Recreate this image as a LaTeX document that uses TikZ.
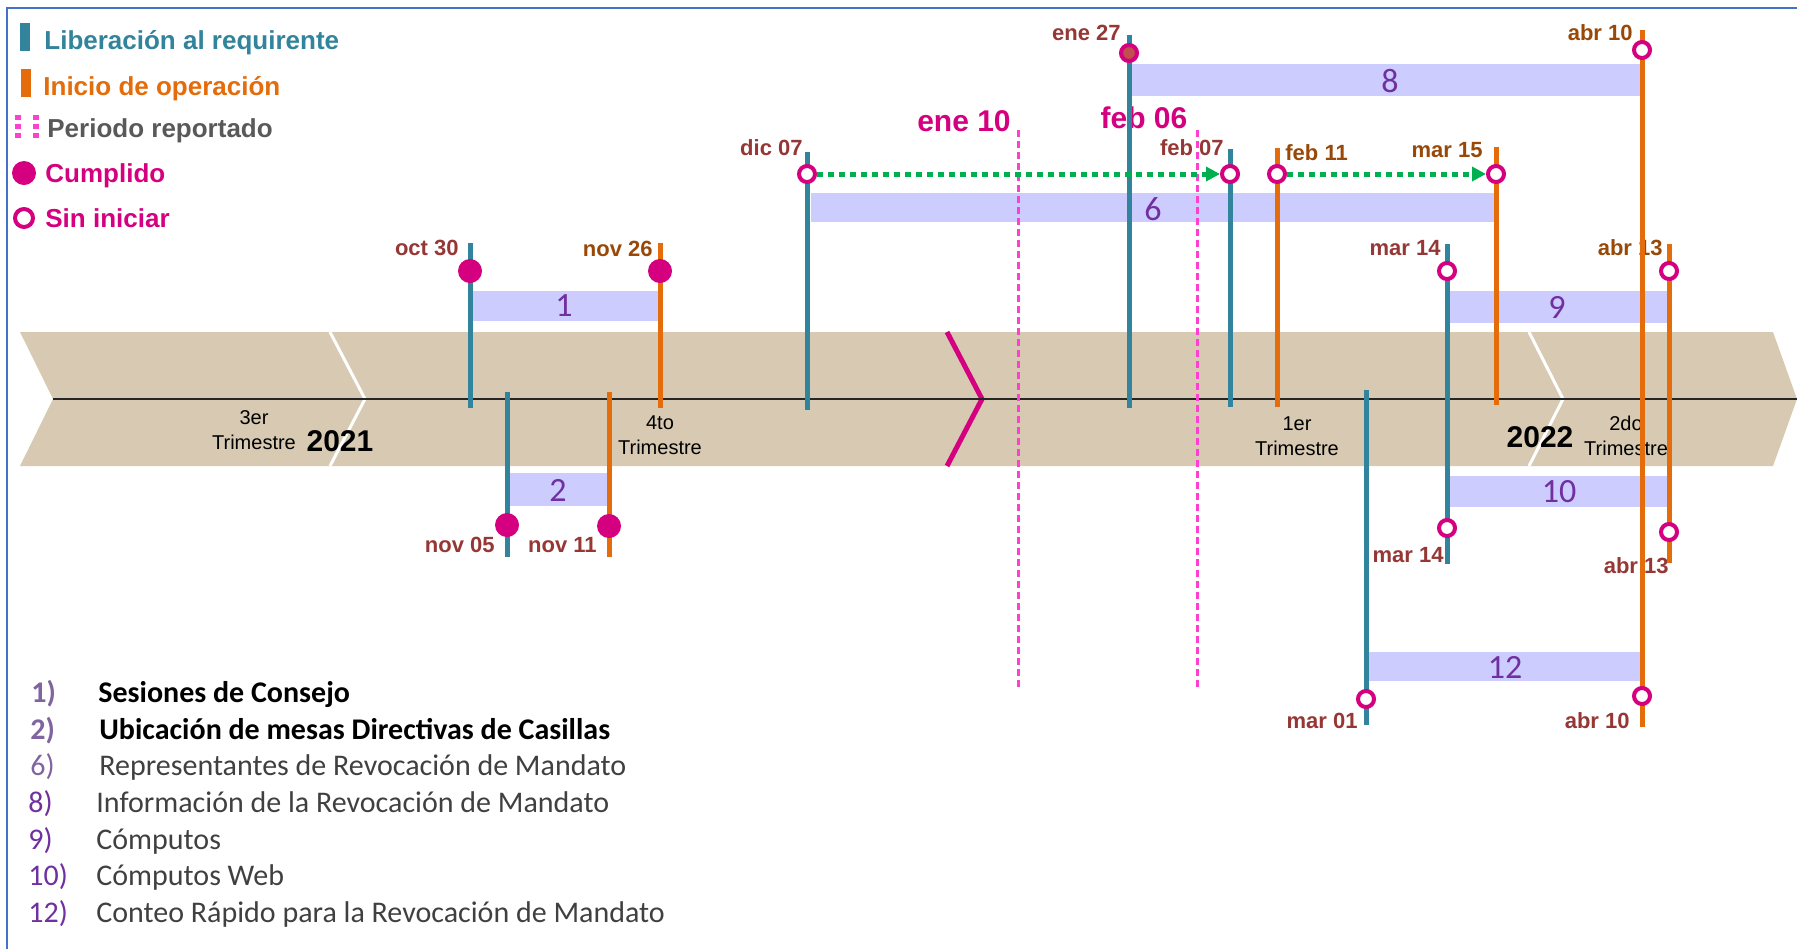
\documentclass[tikz,border=0pt]{standalone}
\usepackage{fontspec}
\setmainfont{Liberation Sans}
\newfontfamily\calibri{Carlito}
\usetikzlibrary{arrows.meta}

\definecolor{libera}{HTML}{31849B}
\definecolor{inicio}{HTML}{E46C0A}
\definecolor{rosa}{HTML}{D5007F}
\definecolor{periodo}{HTML}{FF3FCF}
\definecolor{fechalib}{HTML}{953735}
\definecolor{fechaini}{HTML}{984807}
\definecolor{banda}{HTML}{D8CAB2}
\definecolor{barra}{HTML}{CCCCFF}
\definecolor{morado}{HTML}{7030A0}
\definecolor{moradoclaro}{HTML}{8064A2}
\definecolor{verde}{HTML}{00B050}
\definecolor{marco}{HTML}{4472C4}
\definecolor{gris}{HTML}{595959}
\definecolor{textolista}{HTML}{404040}
\definecolor{rojizo}{HTML}{C0504D}

\tikzset{
  lib/.style={draw=libera, line width=2.5pt},
  ini/.style={draw=inicio, line width=2.5pt},
  cumplido/.style={circle, fill=rosa, minimum size=12pt, inner sep=0pt},
  sininiciar/.style={circle, draw=rosa, line width=2pt, fill=white, minimum size=8pt, inner sep=0pt},
  fecha/.style={font=\fontsize{11}{13}\selectfont\bfseries, inner sep=0pt, text=fechalib},
  fechaini/.style={fecha, text=fechaini},
  numtarea/.style={font=\calibri\fontsize{17}{20}\selectfont, text=morado, inner sep=0pt},
  corte/.style={draw=periodo, line width=1.5pt, dash pattern=on 3.5pt off 2pt},
  avance/.style={draw=verde, line width=2.5pt, dash pattern=on 3pt off 2.5pt, -{Triangle[length=7pt,width=7pt]}},
  trim/.style={align=center, font=\fontsize{10}{12.5}\selectfont, inner sep=0pt},
  anio/.style={font=\fontsize{15}{18}\selectfont\bfseries, inner sep=0pt},
  leyenda/.style={anchor=base west, font=\fontsize{13}{16}\selectfont\bfseries, inner sep=0pt},
  lista/.style={anchor=base west, inner sep=0pt, text=textolista, font=\calibri\fontsize{15}{18}\selectfont},
  eje/.style={draw=black!85, line width=1.2pt}
}

\begin{document}
\begin{tikzpicture}[x=0.5pt,y=-0.5pt]
    \useasboundingbox (0,0) rectangle (1797,949);
    \draw[marco, line width=1pt] (7,949) -- (7,8) -- (1797,8); % marco

    % Banda de trimestres
    \fill[banda] (20,332) -- (1773,332) -- (1797,399) -- (1773,466) -- (20,466) -- (53,399) -- cycle;
    \draw[white, line width=1.5pt] (330,332) -- (365,399) -- (330,466);
    \draw[white, line width=1.5pt] (1529,332) -- (1563,399) -- (1529,466);
    \draw[rosa, line width=2.5pt] (947,332) -- (982,399) -- (947,466); % corte actual
    \draw[eje] (53,399) -- (1797,399);

    \node[trim] (t3) at (254,430) {3er\\Trimestre};
    \node[anio] (a2021) at (340,441) {2021};
    \node[trim] (t4) at (660,435) {4to\\Trimestre};
    \node[trim] (t1) at (1297,436) {1er\\Trimestre};
    \node[anio] (a2022) at (1540,437) {2022};
    \node[trim] (t2) at (1626,436) {2do\\Trimestre};

    % Barras de actividades
    \fill[barra] (473,291) rectangle (658,321);
    \node[numtarea] (n1) at (564,306) {1};
    \fill[barra] (510,473) rectangle (607,506);
    \node[numtarea] (n2) at (558,490) {2};
    \fill[barra] (811,193) rectangle (1494,222);
    \node[numtarea] (n6) at (1153,209) {6};
    \fill[barra] (1132,64) rectangle (1641,96);
    \node[numtarea] (n8) at (1390,81) {8};
    \fill[barra] (1449,291) rectangle (1667,323);
    \node[numtarea] (n9) at (1557,307) {9};
    \fill[barra] (1449,476) rectangle (1667,507);
    \node[numtarea] (n10) at (1559,492) {10};
    \fill[barra] (1369,652) rectangle (1641,681);
    \node[numtarea] (n12) at (1505,667) {12};

    % Fechas
    \node[fecha, anchor=east] (l-oct30) at (459,248) {oct 30};
    \node[fechaini, anchor=east] (l-nov26) at (653,249) {nov 26};
    \node[fecha, anchor=east] (l-nov05) at (495,545) {nov 05};
    \node[fecha, anchor=east] (l-nov11) at (597,545) {nov 11};
    \node[fecha, anchor=east] (l-dic07) at (803,148) {dic 07};
    \node[fecha, anchor=east] (l-ene27) at (1121,33) {ene 27};
    \node[fecha, anchor=east] (l-feb07) at (1224,148) {feb 07};
    \node[fechaini, anchor=west] (l-feb11) at (1285,153) {feb 11};
    \node[fechaini, anchor=east] (l-mar15) at (1483,150) {mar 15};
    \node[fechaini, anchor=east] (l-abr10) at (1633,33) {abr 10};
    \node[fecha, anchor=east] (l-mar14) at (1441,248) {mar 14};
    \node[fechaini, anchor=east] (l-abr13) at (1663,248) {abr 13};
    \node[fecha, anchor=east] (l-mar14b) at (1444,555) {mar 14};
    \node[fecha, anchor=east] (l-abr13b) at (1669,566) {abr 13};
    \node[fecha, anchor=east] (l-mar01) at (1358,721) {mar 01};
    \node[fecha, anchor=east] (l-abr10b) at (1630,721) {abr 10};

    % Periodo reportado
    \node[fecha, text=rosa, font=\fontsize{15}{18}\selectfont\bfseries] (l-ene10) at (964,121) {ene 10};
    \node[fecha, text=rosa, font=\fontsize{15}{18}\selectfont\bfseries] (l-feb06) at (1144,118) {feb 06};
    \draw[corte] (1018,130) -- (1018,688);
    \draw[corte] (1197,130) -- (1197,688);

    % Liberacion (azul) e inicio (naranja)
    \draw[lib] (470,243) -- (470,408);
    \draw[ini] (660,243) -- (660,408);
    \draw[lib] (507,392) -- (507,557);
    \draw[ini] (609,392) -- (609,557);
    \draw[lib] (807,152) -- (807,410);
    \draw[lib] (1129,35) -- (1129,408);
    \draw[lib] (1230,149) -- (1230,407);
    \draw[ini] (1277,148) -- (1277,407);
    \draw[ini] (1496,147) -- (1496,405);
    \draw[ini] (1642,30) -- (1642,727);
    \draw[lib] (1447,244) -- (1447,564);
    \draw[ini] (1669,244) -- (1669,563);
    \draw[lib] (1366,390) -- (1366,725);

    % Estados
    \node[cumplido] (c-oct30) at (470,271) {};
    \node[cumplido] (c-nov26) at (660,271) {};
    \node[cumplido] (c-nov05) at (507,525) {};
    \node[cumplido] (c-nov11) at (609,526) {};
    \node[sininiciar] (c-dic07) at (807,174) {};
    \node[sininiciar, fill=rojizo] (c-ene27) at (1129,53) {};
    \node[sininiciar] (c-feb07) at (1230,174) {};
    \node[sininiciar] (c-feb11) at (1277,174) {};
    \node[sininiciar] (c-mar15) at (1496,174) {};
    \node[sininiciar] (c-abr10) at (1642,50) {};
    \node[sininiciar] (c-mar14) at (1447,271) {};
    \node[sininiciar] (c-abr13) at (1669,271) {};
    \node[sininiciar] (c-mar14b) at (1447,528) {};
    \node[sininiciar] (c-abr13b) at (1669,532) {};
    \node[sininiciar] (c-mar01) at (1366,699) {};
    \node[sininiciar] (c-abr10b) at (1642,696) {};

    \draw[avance] (c-dic07) -- (c-feb07);
    \draw[avance] (c-feb11) -- (c-mar15);

    % Leyenda
    \fill[libera] (20,23) rectangle (30,51);
    \node[leyenda, text=libera] (ley-lib) at (44,49) {Liberación al requirente};
    \fill[inicio] (21,69) rectangle (31,97);
    \node[leyenda, text=inicio] (ley-ini) at (43,95) {Inicio de operación};
    \draw[periodo, line width=3pt, dash pattern=on 2.5pt off 2pt] (18,115) -- (18,138);
    \draw[periodo, line width=3pt, dash pattern=on 2.5pt off 2pt] (36,115) -- (36,138);
    \node[leyenda, text=gris] (ley-per) at (47,137) {Periodo reportado};
    \node[cumplido] (ley-c1) at (24,173) {};
    \node[leyenda, text=rosa] (ley-cum) at (45,182) {Cumplido};
    \node[sininiciar, minimum size=9pt] (ley-c2) at (24,218) {};
    \node[leyenda, text=rosa] (ley-sin) at (45,227) {Sin iniciar};

    % Lista de actividades
    \node[lista, text=moradoclaro, font=\calibri\fontsize{15}{18}\selectfont\bfseries] (k1) at (31,702) {1)};
    \node[lista, text=black, font=\calibri\fontsize{15}{18}\selectfont\bfseries] (d1) at (98,702) {Sesiones de Consejo};
    \node[lista, text=moradoclaro, font=\calibri\fontsize{15}{18}\selectfont\bfseries] (k2) at (30,739) {2)};
    \node[lista, text=black, font=\calibri\fontsize{15}{18}\selectfont\bfseries] (d2) at (99,739) {Ubicación de mesas Directivas de Casillas};
    \node[lista, text=moradoclaro] (k6) at (30,775) {6)};
    \node[lista] (d6) at (99,775) {Representantes de Revocación de Mandato};
    \node[lista, text=morado] (k8) at (28,812) {8)};
    \node[lista] (d8) at (96,812) {Información de la Revocación de Mandato};
    \node[lista, text=morado] (k9) at (28,849) {9)};
    \node[lista] (d9) at (96,849) {Cómputos};
    \node[lista, text=morado] (k10) at (28,885) {10)};
    \node[lista] (d10) at (96,885) {Cómputos Web};
    \node[lista, text=morado] (k12) at (28,922) {12)};
    \node[lista] (d12) at (96,922) {Conteo Rápido para la Revocación de Mandato};
\end{tikzpicture}
\end{document}
